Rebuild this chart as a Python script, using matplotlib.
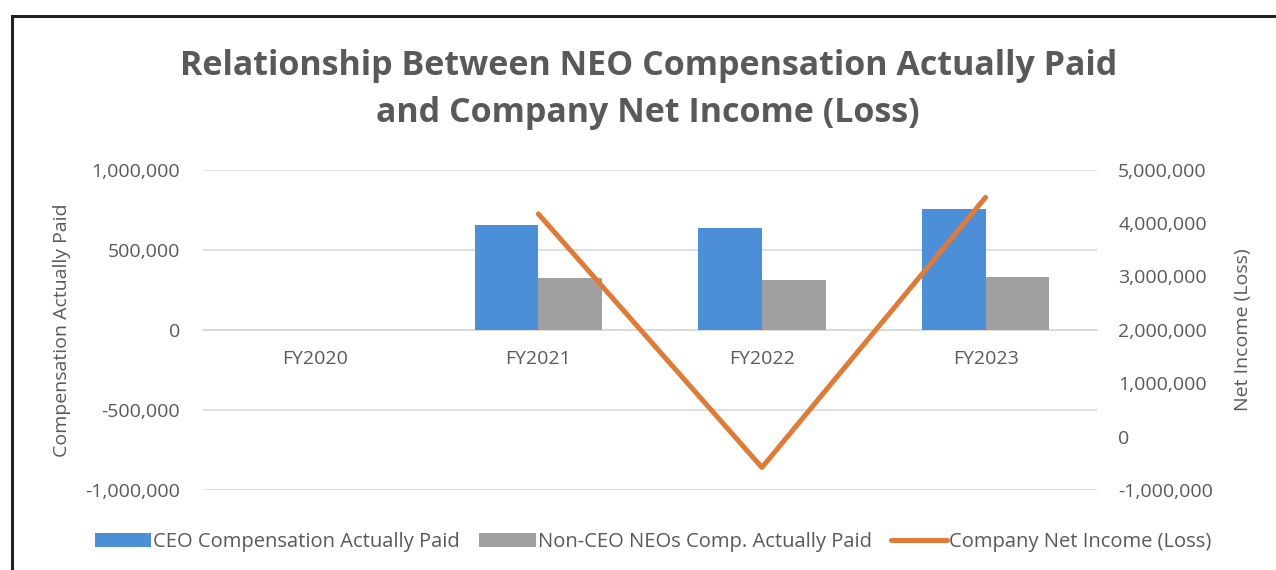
import numpy as np
import matplotlib
matplotlib.use('Agg')
import matplotlib.pyplot as plt
from matplotlib.patches import Rectangle
from matplotlib.ticker import FuncFormatter

plt.rcParams['font.family'] = ['Open Sans', 'DejaVu Sans']

years = ['FY2020', 'FY2021', 'FY2022', 'FY2023']
ceo_cap = [np.nan, 656000, 635000, 756000]
neo_cap = [np.nan, 323000, 308000, 327000]
net_income = [np.nan, 4170000, -575000, 4480000]

blue = '#4A8FD8'
gray = '#A0A0A0'
orange = '#E27A35'
txt = '#595959'

fig = plt.figure(figsize=(12.76, 5.70), dpi=100)
ax = fig.add_axes([0.159, 0.140, 0.701, 0.5626])
ax2 = ax.twinx()

x = np.arange(len(years))
w = 0.285
ax.bar(x - w / 2, ceo_cap, w, color=blue, label='CEO Compensation Actually Paid', zorder=3)
ax.bar(x + w / 2, neo_cap, w, color=gray, label='Non-CEO NEOs Comp. Actually Paid', zorder=3)
ax2.plot(x, net_income, color=orange, lw=3.6, solid_capstyle='round',
         label='Company Net Income (Loss)', zorder=4)

ax.set_xlim(-0.5, 3.5)
ax.set_ylim(-1000000, 1000000)
ax.set_yticks(np.arange(-1000000, 1000001, 500000))
ax2.set_ylim(-1000000, 5000000)
ax2.set_yticks(np.arange(-1000000, 5000001, 1000000))

fmt = FuncFormatter(lambda v, p: f'{v:,.0f}')
ax.yaxis.set_major_formatter(fmt)
ax2.yaxis.set_major_formatter(fmt)

ax.grid(axis='y', color='#D9D9D9', lw=1.2, zorder=0)
ax.set_axisbelow(True)
for s in ['top', 'right', 'left']:
    ax.spines[s].set_visible(False)
    ax2.spines[s].set_visible(False)
ax2.spines['bottom'].set_visible(False)
ax.spines['bottom'].set_position(('data', 0))
ax.spines['bottom'].set_color('#D9D9D9')
ax.spines['bottom'].set_linewidth(1.2)

ax.set_xticks(x)
ax.set_xticklabels(years)
ax.tick_params(axis='x', length=0, pad=14.5, labelsize=14, labelcolor=txt)
ax.tick_params(axis='y', length=0, pad=16.5, labelsize=14, labelcolor=txt)
ax2.tick_params(axis='y', length=0, pad=15, labelsize=14, labelcolor=txt)

ax.set_ylabel('Compensation Actually Paid', fontsize=14, color=txt, ha='center', va='center')
ax2.set_ylabel('Net Income (Loss)', fontsize=14, color=txt, ha='center', va='center')
ax.yaxis.set_label_coords(-0.158, 0.5)
ax2.yaxis.set_label_coords(1.163, 0.5)

fig.text(0.508, 0.843, 'Relationship Between NEO Compensation Actually Paid\nand Company Net Income (Loss)',
         ha='center', va='center', fontsize=24.5, fontweight='bold', color=txt, linespacing=1.52)

h1, l1 = ax.get_legend_handles_labels()
h2, l2 = ax2.get_legend_handles_labels()
fig.legend(h1 + h2, l1 + l2, loc='center', bbox_to_anchor=(0.512, 0.049), ncol=3,
           frameon=False, fontsize=14.5, labelcolor=txt, handlelength=2.8,
           handletextpad=0.1, columnspacing=0.95)

fig.patches.append(Rectangle((12 / 1276, -0.1), 1.2, 1.1 - 16 / 570, transform=fig.transFigure,
                             fill=False, lw=2.2, edgecolor='#222222'))

fig.savefig('out.png', dpi=100)
